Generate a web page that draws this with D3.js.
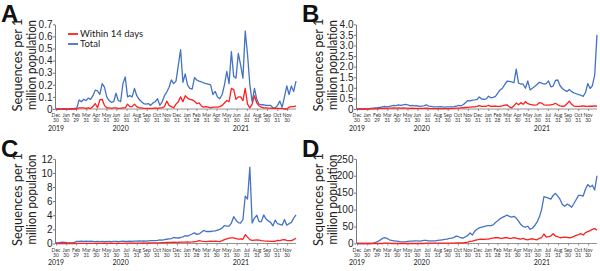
<!DOCTYPE html>
<html>
<head>
<meta charset="utf-8">
<script src="https://cdn.jsdelivr.net/npm/d3@7"></script>
<style>
  body { margin: 0; background: #fff; }
  svg { display: block; font-family: Lato, "Open Sans", sans-serif; }
</style>
</head>
<body>
<div id="chart"></div>
<script>
// Weekly sampling, Monday Dec 30 2019 .. Monday Dec 27 2021
const weeks = d3.timeMonday.range(new Date(2019, 11, 30), new Date(2021, 11, 28));

// Panel A
const aTotal = [0,0,0,0,0,0,0,0,0.005,0.005,
  0.075,0.06,0.08,0.07,0.09,0.08,0.11,0.155,0.15,0.12,
  0.21,0.18,0.1,0.07,0.055,0.06,0.13,0.07,0.06,0.21,
  0.265,0.1,0.11,0.1,0.17,0.11,0.08,0.06,0.045,0.04,
  0.045,0.03,0.05,0.06,0.085,0.03,0.06,0.11,0.14,0.18,
  0.24,0.21,0.23,0.36,0.49,0.22,0.29,0.2,0.17,0.165,
  0.26,0.24,0.23,0.225,0.215,0.21,0.205,0.2,0.12,0.145,
  0.1,0.085,0.12,0.2,0.31,0.21,0.475,0.27,0.255,0.46,
  0.365,0.255,0.645,0.45,0.2,0.06,0.17,0.08,0.04,0.035,
  0.035,0.03,0.03,0.03,0.01,0.01,0.03,0.065,0.015,0.1,
  0.19,0.12,0.19,0.145,0.23];
const aWithin = [0,0,0,0,0,0,0,0,0,0,
  0.01,0.01,0.01,0.005,0.01,0.005,0.02,0.045,0.01,0.075,
  0.08,0.03,0.01,0.01,0.005,0.01,0.01,0.005,0.005,0.01,
  0.01,0.04,0.02,0.02,0.04,0.02,0.01,0.01,0.005,0.005,
  0.005,0.005,0.005,0.01,0.005,0.01,0.01,0.02,0.065,0.03,
  0.02,0.01,0.04,0.06,0.1,0.06,0.11,0.09,0.08,0.075,
  0.065,0.045,0.05,0.025,0.015,0.02,0.015,0.01,0.015,0.015,
  0.015,0.02,0.03,0.05,0.07,0.06,0.17,0.16,0.08,0.1,
  0.1,0.07,0.17,0.04,0.01,0.04,0.11,0.05,0.025,0.015,
  0.01,0.01,0.008,0.008,0.005,0.005,0.005,0.005,0.005,0,
  0,0.015,0.02,0.02,0.025];

// Panel B
const bTotal = [0,0,0,0,0.01,0.02,0.03,0.04,0.05,0.06,
  0.08,0.1,0.12,0.1,0.12,0.15,0.17,0.16,0.2,0.17,
  0.2,0.22,0.2,0.15,0.17,0.15,0.16,0.12,0.14,0.15,
  0.2,0.14,0.12,0.1,0.1,0.1,0.11,0.1,0.09,0.1,
  0.1,0.1,0.11,0.13,0.17,0.15,0.2,0.3,0.4,0.38,
  0.42,0.43,0.45,0.57,0.47,0.46,0.48,0.6,0.53,0.55,
  0.6,0.75,0.9,0.98,1.15,1.32,1.3,1.28,1.24,1.88,
  1.22,1.18,1.17,0.98,1.33,0.9,0.98,1.06,1.16,1.26,
  1.22,1.18,1.2,1.32,1.05,1.08,1.35,1.37,1.1,0.97,
  0.88,0.83,0.92,0.82,0.76,0.72,0.68,0.65,0.6,0.78,
  1.2,0.97,1.1,1.6,3.5];
const bWithin = [0,0,0,0,0,0,0.01,0.01,0.02,0.02,
  0.03,0.03,0.04,0.03,0.04,0.04,0.05,0.04,0.05,0.04,
  0.05,0.04,0.04,0.03,0.04,0.03,0.03,0.03,0.03,0.03,
  0.04,0.03,0.02,0.02,0.02,0.02,0.02,0.02,0.02,0.02,
  0.02,0.03,0.03,0.04,0.04,0.05,0.06,0.07,0.08,0.09,
  0.1,0.1,0.12,0.16,0.12,0.12,0.13,0.17,0.12,0.13,
  0.14,0.12,0.13,0.15,0.18,0.2,0.1,0.05,0.15,0.28,
  0.2,0.3,0.22,0.35,0.25,0.22,0.2,0.18,0.2,0.3,
  0.28,0.2,0.18,0.18,0.2,0.22,0.27,0.2,0.15,0.13,
  0.14,0.25,0.37,0.22,0.14,0.12,0.12,0.13,0.15,0.13,
  0.12,0.14,0.13,0.15,0.13];

// Panel C
const cTotal = [0.1,0.1,0.15,0.2,0.15,0.1,0.1,0.1,0.15,0.3,
  0.3,0.32,0.3,0.32,0.3,0.32,0.3,0.28,0.3,0.28,
  0.3,0.27,0.28,0.3,0.28,0.3,0.3,0.28,0.3,0.32,
  0.3,0.3,0.32,0.3,0.33,0.35,0.38,0.35,0.38,0.35,
  0.38,0.4,0.4,0.42,0.45,0.5,0.48,0.55,0.6,0.65,
  0.7,0.85,0.8,0.78,0.85,0.95,1.1,1.05,1.2,1.35,
  1.5,1.3,1.35,1.6,1.85,1.7,1.7,1.7,1.75,1.78,
  1.9,2.0,2.2,2.55,2.45,2.45,2.9,3.8,3.3,2.95,
  2.9,3.4,6.7,6.3,10.8,2.9,3.6,4.0,3.1,3.1,
  4.05,3.5,3.2,3.0,2.5,3.3,2.8,2.7,2.6,3.4,
  2.6,2.8,3.0,3.6,4.05];
const cWithin = [0,0,0,0,0,0,0,0,0,0.02,
  0.03,0.03,0.03,0.03,0.03,0.03,0.03,0.03,0.03,0.03,
  0.03,0.04,0.03,0.03,0.04,0.03,0.03,0.04,0.03,0.03,
  0.04,0.05,0.05,0.04,0.05,0.06,0.05,0.06,0.07,0.06,
  0.07,0.08,0.08,0.09,0.1,0.1,0.12,0.12,0.14,0.15,
  0.16,0.18,0.17,0.18,0.2,0.19,0.2,0.22,0.2,0.22,
  0.25,0.3,0.42,0.35,0.3,0.28,0.3,0.32,0.3,0.35,
  0.3,0.28,0.4,0.55,0.65,0.75,0.8,0.8,0.7,0.62,
  0.65,0.6,1.25,0.9,0.55,0.45,0.48,0.5,0.47,0.42,
  0.38,0.35,0.33,0.3,0.3,0.32,0.45,0.4,0.5,0.55,
  0.45,0.42,0.4,0.55,0.75];

// Panel D
const dTotal = [0,0,0,0,0,0,0,1,3,6,
  10,15,17,15,11,9,8,7,6,5,
  5,5,6,7,7,8,8,7,8,9,
  9,8,8,8,8,9,10,11,12,13,
  15,16,18,22,20,17,16,20,24,31,
  25,36,42,46,48,50,52,53,53,55,
  62,67,73,77,80,84,80,78,80,75,
  66,56,50,48,51,42,45,53,63,78,
  100,138,136,134,131,142,148,140,130,115,
  110,116,113,107,118,130,142,142,140,160,
  174,167,172,158,200];
const dWithin = [0,0,0,0,0,0,0,0,0,0,
  0,0,1,1,1,0,0,0,0,0,
  0,0,0,0,0,0,0,0,0,0,
  1,1,1,1,1,1,1,1,1,1,
  1,1,1,2,2,2,2,3,4,6,
  7,9,11,12,13,12,13,13,15,16,
  17,17,16,15,17,17,15,15,17,16,
  14,13,15,12,11,13,14,12,11,15,
  17,28,19,20,22,29,22,20,17,18,
  19,18,17,18,21,24,26,29,25,32,
  35,38,42,44,39];

// x tick labels
const tickDates = ["2019-12-30","2020-01-30","2020-02-29","2020-03-31","2020-04-30","2020-05-31",
  "2020-06-30","2020-07-31","2020-08-31","2020-09-30","2020-10-31","2020-11-30",
  "2020-12-31","2021-01-31","2021-02-28","2021-03-31","2021-04-30","2021-05-31",
  "2021-06-30","2021-07-31","2021-08-31","2021-09-30","2021-10-31","2021-11-30"];
const tickMonths = ["Dec","Jan","Feb","Mar","Apr","May","Jun","Jul","Aug","Sep","Oct","Nov",
  "Dec","Jan","Feb","Mar","Apr","May","Jun","Jul","Aug","Sep","Oct","Nov"];
const tickDays = ["30","30","29","31","30","31","30","31","31","30","31","30",
  "31","31","28","31","30","31","30","31","31","30","31","30"];
const yearLabels = ["2019","2020","2021"];
const yearDates = ["2019-12-30","2020-07-13","2021-07-13"];

// y ticks
const aTicks = [0,0.1,0.2,0.3,0.4,0.5,0.6,0.7];
const bTicks = [0,0.5,1.0,1.5,2.0,2.5,3.0,3.5,4.0];
const cTicks = [0,2,4,6,8,10,12];
const dTicks = [0,50,100,150,200,250];

const seriesNames = ["Within 14 days", "Total"];
const colors = { within: "#ff1f1f", total: "#4472c4" };

const parse = d3.timeParse("%Y-%m-%d");
const W = 600, H = 271;

const svg = d3.select("#chart").append("svg")
  .attr("width", W).attr("height", H);
svg.append("rect").attr("width", W).attr("height", H).attr("fill", "#fff");

const panels = [
  { letter: "A", x0: 0,   y0: 0,     total: aTotal, within: aWithin, ticks: aTicks, fmt: d => d === 0 ? "0" : d.toFixed(1), legend: true },
  { letter: "B", x0: 301, y0: 0,     total: bTotal, within: bWithin, ticks: bTicks, fmt: d => d === 0 ? "0" : d.toFixed(1) },
  { letter: "C", x0: 0,   y0: 134.5, total: cTotal, within: cWithin, ticks: cTicks, fmt: d => d },
  { letter: "D", x0: 301, y0: 134.5, total: dTotal, within: dWithin, ticks: dTicks, fmt: d => d }
];

panels.forEach(drawPanel);

function drawPanel(p) {
  const left = p.x0 + 56, right = p.x0 + 296;
  const top = p.y0 + 24.3, bottom = p.y0 + 109;
  const g = svg.append("g");

  const x = d3.scaleTime()
    .domain([weeks[0], weeks[weeks.length - 1]])
    .range([left, right]);
  const y = d3.scaleLinear()
    .domain([0, p.ticks[p.ticks.length - 1]])
    .range([bottom, top]);

  // panel letter
  g.append("text")
    .attr("x", p.x0 + 1).attr("y", p.y0 + 22)
    .attr("font-family", "'Liberation Sans', Arial, sans-serif")
    .attr("font-weight", "bold").attr("font-size", 24)
    .attr("fill", "#111")
    .text(p.letter);

  // y axis title (narrow, like the original's condensed face)
  const title = g.append("g")
    .attr("transform", `translate(${p.x0 + 22},${p.y0 + 65}) rotate(-90)`);
  title.append("text").attr("text-anchor", "middle").attr("font-size", 12.5).attr("fill", "#222")
    .attr("textLength", 93).attr("lengthAdjust", "spacingAndGlyphs")
    .text("Sequences per 1");
  title.append("text").attr("y", 14).attr("text-anchor", "middle").attr("font-size", 12.5).attr("fill", "#222")
    .attr("textLength", 90).attr("lengthAdjust", "spacingAndGlyphs")
    .text("million population");

  // y axis
  const yAxis = g.append("g")
    .attr("transform", `translate(${left - 1},0)`)
    .call(d3.axisLeft(y).tickValues(p.ticks).tickFormat(p.fmt).tickSize(2).tickSizeOuter(0));
  yAxis.selectAll("text").attr("font-size", 10).attr("fill", "#222").attr("x", -2.5);
  yAxis.selectAll("path, line").attr("stroke", "#555").attr("stroke-width", 0.8);

  // x axis
  const xAxis = g.append("g")
    .attr("transform", `translate(0,${bottom})`)
    .call(d3.axisBottom(x).tickValues(tickDates.map(parse)).tickFormat("").tickSize(2).tickSizeOuter(0));
  xAxis.select(".domain").attr("d", `M${left - 1},0H${right}`);
  xAxis.selectAll("path, line").attr("stroke", "#777").attr("stroke-width", 0.8);

  const lbl = g.append("g").attr("font-size", 5).attr("fill", "#333").attr("text-anchor", "middle");
  tickDates.forEach((d, i) => {
    const t = lbl.append("text").attr("transform", `translate(${x(parse(d))},${bottom + 8})`);
    t.append("tspan").attr("x", 0).attr("y", 0).text(tickMonths[i]);
    t.append("tspan").attr("x", 0).attr("y", 5).text(tickDays[i]);
  });
  yearLabels.forEach((yr, i) => {
    g.append("text")
      .attr("x", x(parse(yearDates[i]))).attr("y", bottom + 21.5)
      .attr("text-anchor", "middle").attr("font-size", 7).attr("fill", "#222")
      .text(yr);
  });

  // lines
  const line = d3.line()
    .x((d, i) => x(weeks[i]))
    .y(d => y(d));

  g.append("path").datum(p.total)
    .attr("d", line).attr("fill", "none")
    .attr("stroke", colors.total).attr("stroke-width", 1.3).attr("stroke-linejoin", "round");
  g.append("path").datum(p.within)
    .attr("d", line).attr("fill", "none")
    .attr("stroke", colors.within).attr("stroke-width", 1.3).attr("stroke-linejoin", "round");

  if (p.legend) {
    const lg = g.append("g").attr("transform", `translate(${p.x0 + 68},${p.y0 + 34})`);
    [colors.within, colors.total].forEach((c, i) => {
      lg.append("line").attr("x1", 0).attr("x2", 10).attr("y1", i * 10).attr("y2", i * 10)
        .attr("stroke", c).attr("stroke-width", 1.8);
      lg.append("text").attr("x", 12).attr("y", i * 10 + 3.3)
        .attr("font-size", 9.5).attr("fill", "#222")
        .text(seriesNames[i]);
    });
  }
}
</script>
</body>
</html>
